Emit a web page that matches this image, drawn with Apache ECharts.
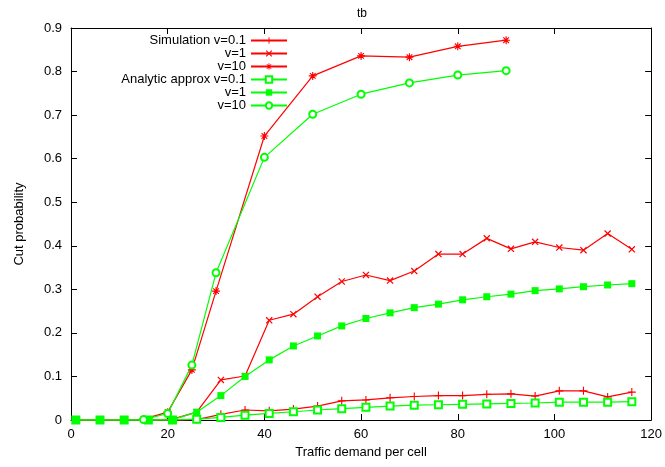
<!DOCTYPE html>
<html>
<head>
<meta charset="utf-8">
<script src="https://cdn.jsdelivr.net/npm/echarts@6/dist/echarts.min.js"></script>
<style>html,body{margin:0;padding:0;background:#fff}#c{width:665px;height:467px}</style>
</head>
<body>
<div id="c"></div>
<script>
// x positions
var xA = [1,6,11,16,21,26,31,36,41,46,51,56,61,66,71,76,81,86,91,96,101,106,111,116];
var xB = [15,20,25,30,40,50,60,70,80,90];
// series values
var simV01 = [0,0,0,0,0,0.001,0.013,0.023,0.021,0.025,0.032,0.044,0.046,0.051,0.054,0.056,0.056,0.059,0.060,0.055,0.067,0.067,0.053,0.064];
var simV1  = [0,0,0,0,0.002,0.018,0.092,0.101,0.229,0.243,0.283,0.318,0.333,0.320,0.342,0.381,0.381,0.417,0.393,0.409,0.396,0.390,0.428,0.392];
var simV10 = [0.002,0.018,0.115,0.296,0.652,0.790,0.836,0.833,0.858,0.872];
var anV01  = [0,0,0,0,0,0.002,0.006,0.011,0.015,0.019,0.023,0.026,0.029,0.032,0.034,0.035,0.036,0.037,0.038,0.039,0.041,0.041,0.041,0.042];
var anV1   = [0,0,0,0,0.001,0.018,0.056,0.100,0.138,0.170,0.193,0.216,0.233,0.246,0.258,0.266,0.276,0.283,0.289,0.297,0.301,0.306,0.310,0.313];
var anV10  = [0.001,0.015,0.126,0.338,0.603,0.702,0.748,0.774,0.792,0.802];
// legend labels
var labels = ['Simulation v=0.1','v=1','v=10','Analytic approx v=0.1','v=1','v=10'];
var ids = ['s01','s1','s10','a01','a1','a10'];

function pairs(xs, ys){ return xs.map(function(x,i){ return [x, ys[i]]; }); }

var PLUS = 'path://M4.3,0H5.7V4.3H10V5.7H5.7V10H4.3V5.7H0V4.3H4.3Z';
var CROSS = 'path://M1.995,1.005L8.995,8.005L8.005,8.995L1.005,1.995ZM8.995,1.995L1.995,8.995L1.005,8.005L8.005,1.005Z';
var STAR = 'path://M4.3,0H5.7V4.3H10V5.7H5.7V10H4.3V5.7H0V4.3H4.3ZM1.995,1.005L8.995,8.005L8.005,8.995L1.005,1.995ZM8.995,1.995L1.995,8.995L1.005,8.005L8.005,1.005Z';

var RED = '#ff0000', GREEN = '#00ff00';
var FONT = 'Liberation Sans, Arial, sans-serif';

function mk(id, xs, ys, color, symbol, size, empty){
  return {
    id: id, name: id, type: 'line', data: pairs(xs, ys),
    symbol: symbol, symbolSize: size, showAllSymbol: true,
    lineStyle: {color: color, width: 1.2},
    itemStyle: {color: color, borderColor: color, borderWidth: empty ? 1 : 0},
    emphasis: {disabled: true}, animation: false, clip: false
  };
}

var chart = echarts.init(document.getElementById('c'));
var axisCommon = {
  min: 0, axisLine: {show: true, onZero: false, lineStyle: {color: '#000', width: 1}},
  axisTick: {show: true, inside: true, length: 6, lineStyle: {color: '#000'}},
  splitLine: {show: false}
};
chart.setOption({
  animation: false,
  textStyle: {fontFamily: FONT},
  title: {text: 'tb', left: 352, top: 3, textStyle: {fontSize: 12, fontWeight: 'normal', color: '#000', fontFamily: FONT}},
  grid: {left: 71, right: 11, top: 28, bottom: 47},
  legend: {
    orient: 'vertical', right: 377, top: 34, align: 'right', padding: 0,
    itemWidth: 36, itemHeight: 8, itemGap: 0,
    data: ids,
    formatter: function(n){ return labels[ids.indexOf(n)]; },
    textStyle: {fontSize: 13, color: '#000', fontFamily: FONT, lineHeight: 13}
  },
  xAxis: [
    Object.assign({}, axisCommon, {type: 'value', max: 120, interval: 20, position: 'bottom',
      name: 'Traffic demand per cell', nameLocation: 'middle', nameGap: 26,
      nameTextStyle: {fontSize: 13, color: '#000', fontFamily: FONT},
      axisLabel: {fontSize: 13, color: '#000', margin: 8, fontFamily: FONT}}),
    Object.assign({}, axisCommon, {type: 'value', max: 120, interval: 20, position: 'top',
      axisLabel: {show: false}})
  ],
  yAxis: [
    Object.assign({}, axisCommon, {type: 'value', max: 0.9, interval: 0.1, position: 'left',
      name: 'Cut probability', nameLocation: 'middle', nameGap: 45, nameRotate: 90,
      nameTextStyle: {fontSize: 13, color: '#000', fontFamily: FONT},
      axisLabel: {fontSize: 13, color: '#000', margin: 9, fontFamily: FONT}}),
    Object.assign({}, axisCommon, {type: 'value', max: 0.9, interval: 0.1, position: 'right',
      axisLabel: {show: false}})
  ],
  series: [
    mk('s01', xA, simV01, RED, PLUS, 8, false),
    mk('s1', xA, simV1, RED, CROSS, 7, false),
    mk('s10', xB, simV10, RED, STAR, 8, false),
    mk('a01', xA, anV01, GREEN, 'emptyRect', 7, true),
    mk('a1', xA, anV1, GREEN, 'rect', 7, false),
    mk('a10', xB, anV10, GREEN, 'emptyCircle', 7, true)
  ]
});
</script>
</body>
</html>
